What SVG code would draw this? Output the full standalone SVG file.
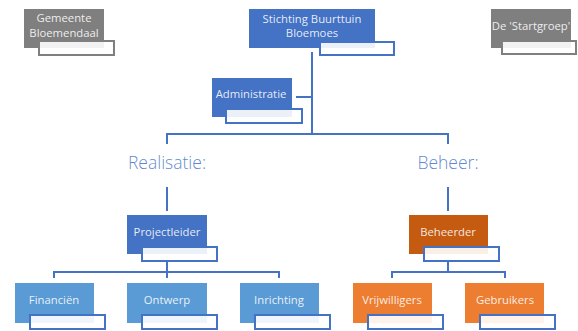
<svg xmlns="http://www.w3.org/2000/svg" width="578" height="331" viewBox="0 0 578 331">
<style>
.t{font-family:"Open Sans","Noto Sans",sans-serif;font-size:11.3px;fill:#ffffff;fill-opacity:0.88;text-anchor:middle}
.h{font-family:"Open Sans","Noto Sans",sans-serif;font-size:17.5px;font-weight:300;fill:#4472C4;fill-opacity:0.85;text-anchor:middle}
.sb{fill:#ffffff;fill-opacity:0.9;stroke:#4472C4;stroke-width:2}
.sg{fill:#ffffff;fill-opacity:0.9;stroke:#7F7F7F;stroke-width:2}
.c{fill:none;stroke:#4472C4;stroke-width:2}
.blue{fill:#4472C4}.lb{fill:#5B9BD5}.or{fill:#ED7D31}.dor{fill:#C55A11}.gr{fill:#7F7F7F}
</style>
<rect width="578" height="331" fill="#ffffff"/>
<g id="connectors">
<path class="c" d="M312,52 V134 M296,97 H312 M167,144 V134 H448 V144 M167,187 V211 M448,187 V211 M167,262 V278 M54,278 V272 H279 V278 M448,262 V272 M392,278 V272 H505 V278"/>
</g>
<text class="h" x="167" y="169">Realisatie:</text>
<text class="h" x="448" y="169">Beheer:</text>
<g id="gemeente">
<rect class="gr" x="24" y="9" width="80" height="39"/>
<rect class="sg" x="39" y="41" width="75" height="14"/>
<text class="t" x="64" y="22">Gemeente</text>
<text class="t" x="64" y="37">Bloemendaal</text>
</g>
<g id="stichting">
<rect class="blue" x="249" y="9" width="126" height="39"/>
<rect class="sb" x="320" y="42" width="74" height="13"/>
<text class="t" x="312" y="23">Stichting Buurttuin</text>
<text class="t" x="312" y="37">Bloemoes</text>
</g>
<g id="startgroep">
<rect class="gr" x="491" y="9" width="80" height="39"/>
<rect class="sg" x="502" y="41" width="74" height="13"/>
<text class="t" x="531" y="30">De 'Startgroep'</text>
</g>
<g id="administratie">
<rect class="blue" x="212" y="78" width="80" height="39"/>
<rect class="sb" x="226" y="109" width="76" height="14"/>
<text class="t" x="251" y="98">Administratie</text>
</g>
<g id="projectleider">
<rect class="blue" x="127" y="215" width="80" height="39"/>
<rect class="sb" x="142" y="247" width="75" height="14"/>
<text class="t" x="167" y="236">Projectleider</text>
</g>
<g id="beheerder">
<rect class="dor" x="409" y="215" width="79" height="39"/>
<rect class="sb" x="424" y="247" width="75" height="14"/>
<text class="t" x="448" y="236">Beheerder</text>
</g>
<g id="financien">
<rect class="lb" x="15" y="283" width="79" height="40"/>
<rect class="sb" x="30" y="315" width="75" height="14"/>
<text class="t" x="54" y="304">Financiën</text>
</g>
<g id="ontwerp">
<rect class="lb" x="127" y="283" width="80" height="40"/>
<rect class="sb" x="142" y="315" width="75" height="14"/>
<text class="t" x="167" y="304">Ontwerp</text>
</g>
<g id="inrichting">
<rect class="lb" x="240" y="283" width="79" height="40"/>
<rect class="sb" x="255" y="315" width="75" height="14"/>
<text class="t" x="279" y="304">Inrichting</text>
</g>
<g id="vrijwilligers">
<rect class="or" x="353" y="283" width="79" height="40"/>
<rect class="sb" x="368" y="315" width="75" height="14"/>
<text class="t" x="392" y="304">Vrijwilligers</text>
</g>
<g id="gebruikers">
<rect class="or" x="465" y="283" width="79" height="40"/>
<rect class="sb" x="480" y="315" width="75" height="14"/>
<text class="t" x="505" y="304">Gebruikers</text>
</g>
</svg>
